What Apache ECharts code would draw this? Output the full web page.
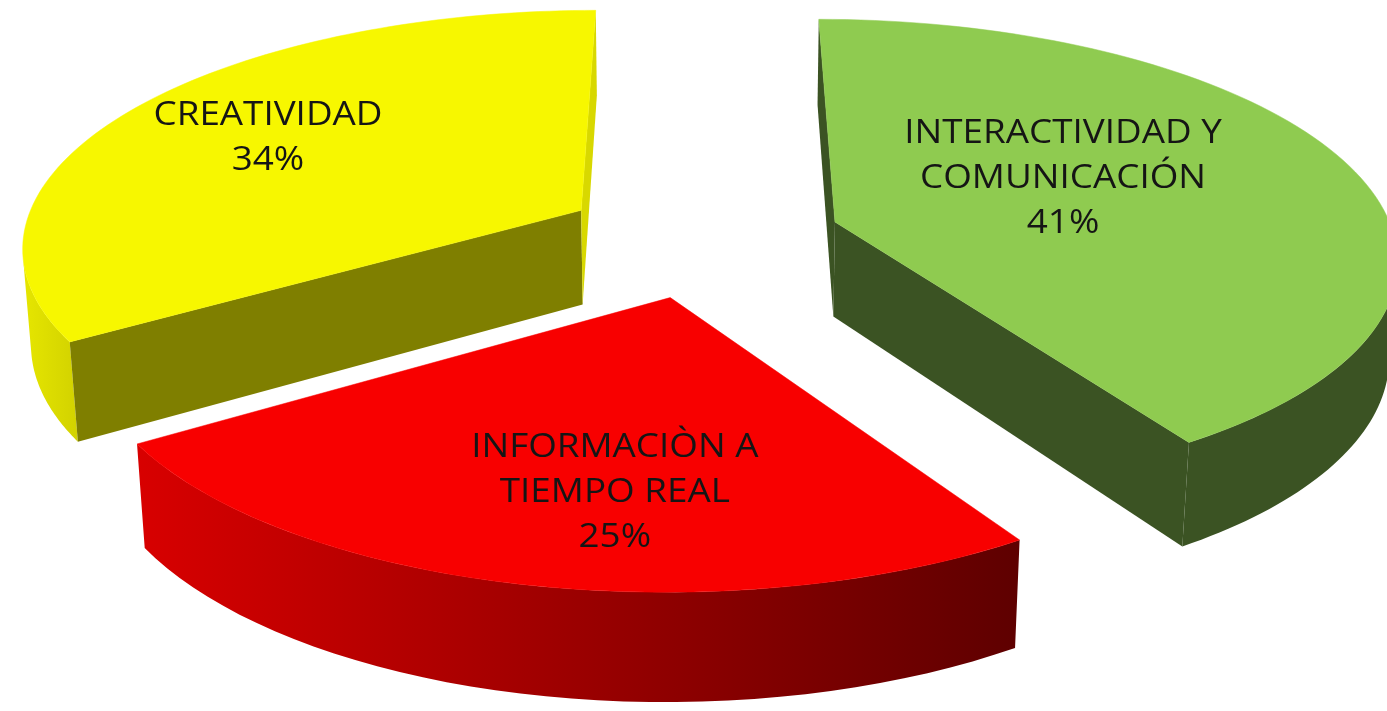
<!DOCTYPE html>
<html>
<head>
<meta charset="utf-8">
<title>Competencias</title>
<script src="https://cdn.jsdelivr.net/npm/echarts@6/dist/echarts.min.js"></script>
<style>
html, body { margin: 0; padding: 0; background: #fff; }
#main { width: 1387px; height: 711px; }
</style>
</head>
<body>
<div id="main"></div>
<script>
// datos, en el orden de Excel (sentido horario desde las 12)
var categories = ["INTERACTIVIDAD Y\nCOMUNICACIÓN", "INFORMACIÒN A\nTIEMPO REAL", "CREATIVIDAD"];
var values = [41, 25, 34];

// colores de cada porcion: cara superior, pared exterior [izq, der], caras de corte [hi, lo]
var topColors = ["#8fcb50", "#f80000", "#f7f700"];
var wallColors = [["#3b5323", "#3b5323"], ["#d80000", "#5e0000"], ["#e6e600", "#d2d200"]];
var cutColors = [["#3b5323", "#3b5323"], ["#8a0000", "#8a0000"], ["#7f7f00", "#d8d800"]];
// posicion de las etiquetas: [fraccion del radio, desvio en grados]
var labelAt = [[0.47, 8], [0.7, 6], [0.69, 0]];

// "camara" para la vista 3D
var DIST = 6.5, EXPLODE = 0.25, THICK = 0.19;
var tilt = Math.asin(0.42);
var sa = Math.sin(tilt), ca = Math.cos(tilt);

var total = values.reduce(function (a, b) { return a + b; }, 0);

function area(pts) {
  var s = 0;
  for (var k = 0; k < pts.length; k++) {
    var p = pts[k], q = pts[(k + 1) % pts.length];
    s += p[0] * q[1] - q[0] * p[1];
  }
  return s / 2;
}

function renderItem(params, api) {
  var i = params.dataIndex;
  var w = api.getWidth(), h = api.getHeight();
  var cx = w * 0.506, cy = h * 0.335, F = w * 2.624;

  var before = 0;
  for (var k = 0; k < i; k++) before += values[k];
  var hi = Math.PI / 2 - before / total * 2 * Math.PI;
  var lo = hi - api.value(0) / total * 2 * Math.PI;
  var mid = (hi + lo) / 2;
  var ox = EXPLODE * Math.cos(mid), oy = EXPLODE * Math.sin(mid);

  function proj(x, y, z) {
    var d = DIST + y * ca - z * sa;
    return [cx + F * x / d, cy - F * (y * sa + z * ca) / d];
  }
  function rim(a, z) { return proj(ox + Math.cos(a), oy + Math.sin(a), z); }
  var c0 = proj(ox, oy, 0), c1 = proj(ox, oy, -THICK);

  var zBase = Math.round(-Math.sin(mid) * 100);
  var children = [];
  function face(pts, fill) {
    if (area(pts) >= 0) return; // cara de espaldas
    children.push({
      type: "polygon",
      z2: zBase,
      shape: { points: pts },
      style: { fill: fill }
    });
  }

  // pared exterior: solo los tramos que miran a la camara, en un solo poligono
  var n = 90, vis = [];
  for (var s = 0; s < n; s++) {
    var a1 = lo + (hi - lo) * s / n, a2 = lo + (hi - lo) * (s + 1) / n;
    if (area([rim(a1, -THICK), rim(a2, -THICK), rim(a2, 0), rim(a1, 0)]) < 0) vis.push(s);
  }
  if (vis.length) {
    var aS = lo + (hi - lo) * vis[0] / n, aE = lo + (hi - lo) * (vis[vis.length - 1] + 1) / n;
    var wall = [];
    for (var t = 0; t <= 40; t++) wall.push(rim(aS + (aE - aS) * t / 40, -THICK));
    for (var t1 = 40; t1 >= 0; t1--) wall.push(rim(aS + (aE - aS) * t1 / 40, 0));
    children.push({
      type: "polygon",
      z2: zBase,
      shape: { points: wall },
      style: {
        fill: {
          type: "linear", x: 0, y: 0, x2: 1, y2: 0,
          colorStops: [{ offset: 0, color: wallColors[i][0] }, { offset: 1, color: wallColors[i][1] }]
        }
      }
    });
  }
  // caras de corte
  face([c0, rim(hi, 0), rim(hi, -THICK), c1], cutColors[i][0]);
  face([c0, c1, rim(lo, -THICK), rim(lo, 0)], cutColors[i][1]);

  // cara superior
  var topPts = [c0];
  for (var t2 = 0; t2 <= n; t2++) topPts.push(rim(lo + (hi - lo) * t2 / n, 0));
  children.push({
    type: "polygon",
    z2: zBase + 1,
    shape: { points: topPts },
    style: { fill: topColors[i], stroke: topColors[i], lineWidth: 0.5 }
  });

  // etiqueta
  var la = mid + labelAt[i][1] * Math.PI / 180, lr = labelAt[i][0];
  var lp = proj(ox + lr * Math.cos(la), oy + lr * Math.sin(la), 0);
  var pct = Math.round(api.value(0) / total * 100);
  children.push({
    type: "text",
    x: lp[0],
    y: lp[1],
    scaleX: 1.15,
    z2: 500,
    style: {
      text: categories[i] + "\n" + pct + "%",
      fill: "#151515",
      font: "32px 'Open Sans'",
      textAlign: "center",
      textVerticalAlign: "middle",
      align: "center",
      verticalAlign: "middle",
      lineHeight: 45
    }
  });

  return { type: "group", children: children };
}

var myChart = echarts.init(document.getElementById("main"));
var option = {
  backgroundColor: "#fff",
  animation: false,
  series: [
    {
      type: "custom",
      coordinateSystem: "none",
      silent: true,
      renderItem: renderItem,
      data: values.map(function (v, i) { return { name: categories[i], value: [v] }; })
    }
  ]
};
myChart.setOption(option);
</script>
</body>
</html>
